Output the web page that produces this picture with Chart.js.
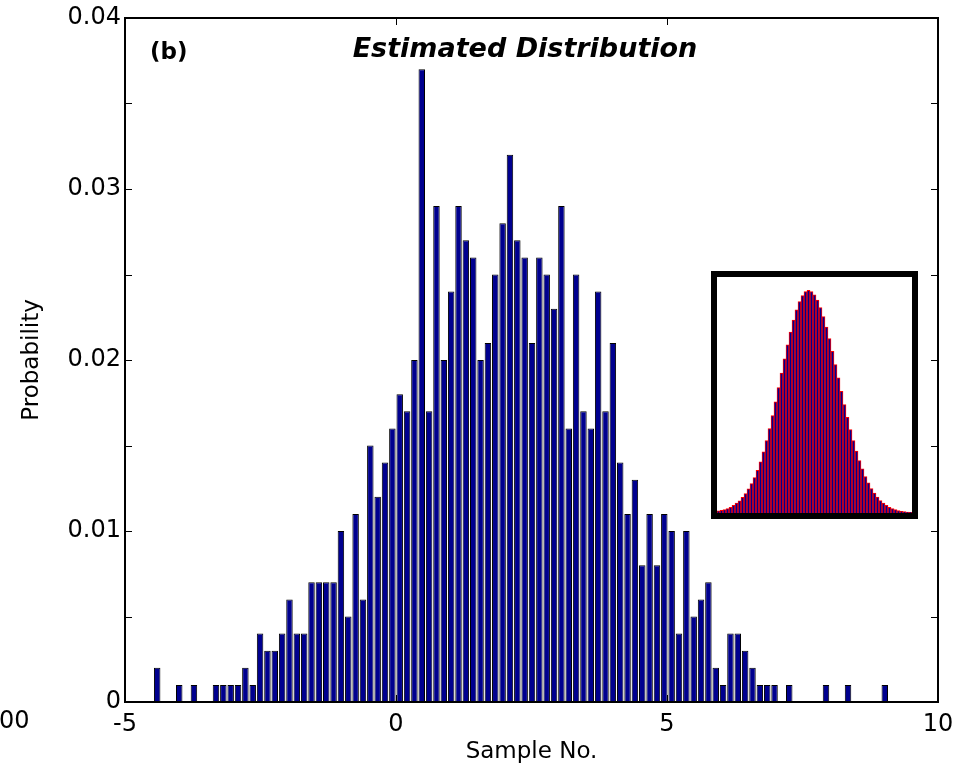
<!DOCTYPE html>
<html>
<head>
<meta charset="utf-8">
<script src="https://cdn.jsdelivr.net/npm/chart.js@4.4.1/dist/chart.umd.min.js"></script>
<style>
html,body{margin:0;padding:0;background:#fff;}
#wrap{position:relative;width:958px;height:773px;overflow:hidden;background:#fff;}
#main{position:absolute;left:0;top:0;}
#insetBox{position:absolute;left:711px;top:271px;width:195px;height:236px;border:6px solid #000;background:#fff;}
#inset{display:block;}
</style>
</head>
<body>
<div id="wrap">
  <canvas id="main" width="958" height="773"></canvas>
  <div id="insetBox"><canvas id="inset" width="195" height="236"></canvas></div>
</div>
<script>
// ---------------- data ----------------
const titleText = 'Estimated Distribution';
const panelLabel = '(b)';
const xAxisLabel = 'Sample No.';
const yAxisLabel = 'Probability';
const xTickValues = [-5, 0, 5, 10];
const yLabelValues = [0, 0.01, 0.02, 0.03, 0.04];

// histogram: 100 bins
const histMin = -4.474;
const binWidth = 0.1356;
const probability = [
  0.002,0,0,0.001,0,0.001,0,0,0.001,0.001,
  0.001,0.001,0.002,0.001,0.004,0.003,0.003,0.004,0.006,0.004,
  0.004,0.007,0.007,0.007,0.007,0.010,0.005,0.011,0.006,0.015,
  0.012,0.014,0.016,0.018,0.017,0.020,0.037,0.017,0.029,0.020,
  0.024,0.029,0.027,0.026,0.020,0.021,0.025,0.028,0.032,0.027,
  0.026,0.021,0.026,0.025,0.023,0.029,0.016,0.025,0.017,0.016,
  0.024,0.017,0.021,0.014,0.011,0.013,0.008,0.011,0.008,0.011,
  0.010,0.004,0.010,0.005,0.006,0.007,0.002,0.001,0.004,0.004,
  0.003,0.002,0.001,0.001,0.001,0,0.001,0,0,0,
  0,0.001,0,0,0.001,0,0,0,0,0.001
];
const binCenters = probability.map((_, i) => +(histMin + (i + 0.5) * binWidth).toFixed(4));

// inset: relative heights (% of peak) of the fine histogram
const insetValues = [
  1.0,1.2,1.5,2.0,2.6,3.4,4.4,5.5,7.0,8.7,
  10.8,13.2,15.9,19.2,23.0,27.5,32.5,37.9,43.8,49.9,
  56.3,62.8,69.3,75.5,81.3,86.6,91.2,95.0,97.7,99.4,
  100,99.5,98.0,95.6,92.3,88.2,83.5,78.3,72.6,66.7,
  60.7,54.6,48.7,43.0,37.5,32.5,27.8,23.6,19.8,16.4,
  13.5,11.0,8.9,7.1,5.6,4.4,3.4,2.6,2.0,1.5,
  1.1,0.8,0.6,0.4,0.3
];
const insetLabels = insetValues.map((_, i) => i + 1);

// ---------------- chart ----------------
Chart.defaults.font.family = '"DejaVu Sans", sans-serif';
Chart.defaults.color = '#000';

const framePlugin = {
  id: 'frame',
  afterDraw(chart) {
    const {ctx, chartArea: a, scales: {x, y}} = chart;
    ctx.save();
    ctx.strokeStyle = '#000';
    ctx.lineWidth = 1;
    const seg = (x1, y1, x2, y2) => { ctx.beginPath(); ctx.moveTo(x1, y1); ctx.lineTo(x2, y2); ctx.stroke(); };
    y.ticks.forEach(t => {
      const py = Math.round(y.getPixelForValue(t.value)) + 0.5;
      seg(a.left, py, a.left + 7, py);
      seg(a.right - 7, py, a.right, py);
    });
    x.ticks.forEach(t => {
      const px = Math.round(x.getPixelForValue(t.value)) + 0.5;
      seg(px, a.bottom, px, a.bottom - 7);
      seg(px, a.top, px, a.top + 7);
    });
    ctx.lineWidth = 2;
    ctx.strokeRect(a.left, a.top, a.right - a.left, a.bottom - a.top);

    ctx.fillStyle = '#000';
    ctx.textBaseline = 'alphabetic';
    ctx.font = 'bold italic 27px "DejaVu Sans", sans-serif';
    ctx.textAlign = 'center';
    ctx.fillText(titleText, 525, 57);
    ctx.font = 'bold 23px "DejaVu Sans", sans-serif';
    ctx.textAlign = 'left';
    ctx.fillText(panelLabel, 150, 59);
    ctx.font = '24px "DejaVu Sans", sans-serif';
    ctx.textBaseline = 'middle';
    ctx.fillText('00', -1, 722);
    ctx.restore();
  }
};

new Chart(document.getElementById('main'), {
  type: 'bar',
  data: {
    datasets: [{
      data: binCenters.map((c, i) => ({x: c, y: probability[i]})),
      backgroundColor: '#00008F',
      borderColor: '#000000',
      borderWidth: 1,
      barPercentage: 0.88,
      categoryPercentage: 1.0
    }]
  },
  options: {
    responsive: false,
    animation: false,
    devicePixelRatio: 1,
    layout: {padding: {top: 18, right: 20, left: 0, bottom: 0}},
    plugins: {legend: {display: false}, tooltip: {enabled: false}},
    scales: {
      x: {
        type: 'linear',
        offset: false,
        min: -5, max: 10,
        afterBuildTicks: s => { s.ticks = xTickValues.map(v => ({value: v})); },
        ticks: {font: {size: 24}, padding: 8, color: '#000', callback: v => String(v)},
        grid: {display: false, drawTicks: false},
        border: {display: false},
        title: {display: true, text: xAxisLabel, font: {size: 23}, color: '#000', padding: {top: 0, bottom: 7}},
        afterFit: s => { s.height = 71; s.paddingLeft = 0; s.paddingRight = 0; }
      },
      y: {
        min: 0, max: 0.04,
        ticks: {
          stepSize: 0.005, font: {size: 24}, padding: 4, color: '#000',
          callback: v => {
            const n = Math.round(v * 1000);
            if (n % 10 !== 0) return '';
            const hit = yLabelValues.find(l => Math.round(l * 1000) === n);
            return hit === undefined ? '' : String(hit);
          }
        },
        grid: {display: false, drawTicks: false},
        border: {display: false},
        title: {display: true, text: yAxisLabel, font: {size: 23}, color: '#000', padding: {top: 18, bottom: 0}},
        afterFit: s => { s.width = 125; s.paddingTop = 0; s.paddingBottom = 0; }
      }
    }
  },
  plugins: [framePlugin]
});

new Chart(document.getElementById('inset'), {
  type: 'bar',
  data: {
    labels: insetLabels,
    datasets: [{
      data: insetValues,
      backgroundColor: '#00008F',
      borderColor: '#FF0000',
      borderWidth: 1,
      barPercentage: 1.0,
      categoryPercentage: 1.0
    }]
  },
  options: {
    responsive: false,
    animation: false,
    devicePixelRatio: 1,
    layout: {padding: 0},
    plugins: {legend: {display: false}, tooltip: {enabled: false}},
    scales: {
      x: {display: false},
      y: {display: false, min: 0, max: 106}
    }
  }
});
</script>
</body>
</html>
